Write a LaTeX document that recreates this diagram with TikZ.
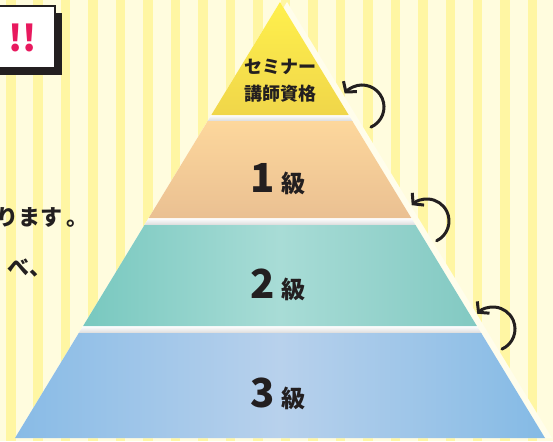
\documentclass[tikz,border=0pt]{standalone}
\usepackage{fontspec}
\newfontfamily\jpfont{Noto Sans CJK JP}
\usetikzlibrary{positioning, arrows.meta}
\definecolor{ink}{HTML}{231F20}
\definecolor{cream}{HTML}{FFFCDE}
\definecolor{stripe}{HTML}{FFF6A3}
\definecolor{pinkmark}{HTML}{E8195E}
\tikzset{
    tiertext/.style={text=ink, inner sep=0pt, align=center, font=\jpfont\bfseries\fontsize{18}{27}\selectfont},
    gradenum/.style={text=ink, inner sep=0pt, font=\jpfont\bfseries\fontsize{40}{40}\selectfont},
    gradekyu/.style={text=ink, inner sep=0pt, font=\jpfont\bfseries\fontsize{24}{24}\selectfont},
    sidetext/.style={text=ink, inner sep=0pt, font=\jpfont\bfseries\fontsize{22}{22}\selectfont},
    backarrow/.style={draw=ink, line width=3pt, line cap=round},
    gapband/.style={top color=white, bottom color=black!14},
  }
\begin{document}
\begin{tikzpicture}[x=1pt,y=1pt,>={Straight Barb[length=7pt,width=17pt]}]
	    \useasboundingbox (0,0) rectangle (553,-441);
	    \clip (0,0) rectangle (553,-441);
	    % striped background
	    \fill[cream] (0,0) rectangle (553,-441);
	    \foreach \i in {0,...,20}
	        \fill[stripe] ({6+27.47*\i},0) rectangle ++(9.5,-441);
	    % pyramid body, tiers and gaps
	    \fill[cream!60!white] (287,-2) -- (552,-438) -- (22,-438) -- cycle;
	    \fill[white] (280,-2) -- (545,-438) -- (15,-438) -- cycle;
	    \begin{scope}
	        \clip (280,-2) -- (545,-438) -- (15,-438) -- cycle;
	        \foreach \ya/\yb in {115/121,218/225,326/333}
	            \shade[gapband] (0,-\ya) rectangle (553,-\yb);
	    \end{scope}
	    \shade[top color={rgb,255:red,255;green,240;blue,76}, bottom color={rgb,255:red,240;green,214;blue,74}]
	        (280,-2) -- (348.7,-115) -- (211.3,-115) -- cycle;
	    \shade[top color={rgb,255:red,253;green,215;blue,156}, bottom color={rgb,255:red,234;green,192;blue,146}]
	        (207.7,-121) -- (352.3,-121) -- (411.3,-218) -- (148.7,-218) -- cycle;
	    \shade[left color={rgb,255:red,120;green,200;blue,191}, right color={rgb,255:red,130;green,201;blue,194}, middle color={rgb,255:red,168;green,220;blue,214}]
	        (144.5,-225) -- (415.5,-225) -- (476.9,-326) -- (83.1,-326) -- cycle;
	    \shade[left color={rgb,255:red,136;green,187;blue,230}, right color={rgb,255:red,132;green,186;blue,229}, middle color={rgb,255:red,184;green,209;blue,236}]
	        (78.8,-333) -- (481.2,-333) -- (545,-438) -- (15,-438) -- cycle;
	    % create the nodes
	    \node[tiertext] (top) at (280,-81) {セミナー\\講師資格};
	    \node[gradenum, anchor=base] (one) at (263,-192) {1};
	    \node[gradekyu, right=6pt of one.base east, anchor=base west] (onekyu) {級};
	    \node[gradenum, anchor=base] (two) at (263,-298) {2};
	    \node[gradekyu, right=6pt of two.base east, anchor=base west] (twokyu) {級};
	    \node[gradenum, anchor=base] (three) at (263,-407) {3};
	    \node[gradekyu, right=6pt of three.base east, anchor=base west] (threekyu) {級};
	    % step-up arrows
	    \coordinate (up1) at (362,-107);
	    \coordinate (up2) at (427,-221);
	    \coordinate (up3) at (493,-329);
	    \draw[backarrow,->] ([shift={(-66:22)}]up1) arc (-66:142:22);
	    \draw[backarrow,->] ([shift={(-64:22)}]up2) arc (-64:134:22);
	    \draw[backarrow,->] ([shift={(-66:22)}]up3) arc (-66:136:22);
	    % heading box and side text
	    \fill[ink] (-3,-13) rectangle (62,-75);
	    \draw[ink, fill=white, line width=2pt] (-10,-6) rectangle (55,-68);
	    \node[text=pinkmark, inner sep=0pt, font=\jpfont\bfseries\fontsize{36}{36}\selectfont] (mark) at (22.5,-38) {!!};
	    \node[sidetext, anchor=west] (line1) at (-4,-217) {ります\hspace{4pt}。};
	    \node[sidetext, anchor=west] (line2) at (7,-268) {べ、};
\end{tikzpicture}
\end{document}
